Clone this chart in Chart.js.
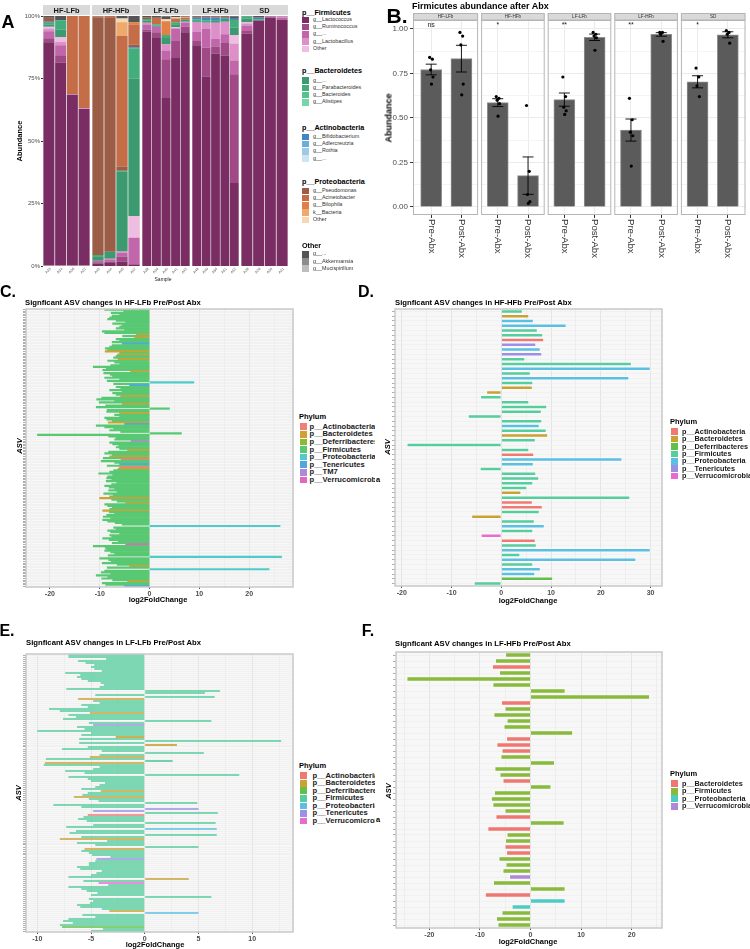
<!DOCTYPE html>
<html>
<head>
<meta charset="utf-8">
<script src="https://cdn.jsdelivr.net/npm/chart.js@4/dist/chart.umd.min.js"></script>
<style>
body { margin: 0; background: #fff; font-family: "Liberation Sans", Arial, sans-serif; }
#page { position: relative; width: 750px; height: 949px; overflow: hidden; }
#leftCol { position: absolute; left: 0; top: 0; width: 375px; height: 949px; overflow: hidden; }
canvas { position: absolute; }
.t { position: absolute; white-space: nowrap; line-height: 1; }
.sw { position: absolute; }
</style>
</head>
<body>
<div id="page"><div id="leftCol"></div></div>
<script>
// ---------- data: panel A (relative abundance, % per sample) ----------
const facetNamesA = ['HF-LFb', 'HF-HFb', 'LF-LFb', 'LF-HFb', 'SD'];
const facetSizesA = [4, 4, 5, 5, 4];
const samplesA = ['A33', 'A34', 'A36', 'A37', 'A43', 'A44', 'A45', 'A47', 'A38', 'A39', 'A40',
  'A41', 'A42', 'A48', 'A49', 'A50', 'A51', 'A52', 'A28', 'A29', 'A30', 'A31'];

const lactococcus = [89.5, 81.3, 68.5, 62.8, 1.0, 1.2, 1.8, 0.5, 93.8, 91.5, 67.2, 83.5, 93.5, 88.3, 75.8, 85.0, 84.2, 33.2, 93.0, 98.2, 99.2, 98.5];
const ruminococcus = [1.6, 3.0, 0, 0, 0.5, 0.6, 2.0, 0.3, 0.8, 2.0, 15.5, 6.5, 2.2, 1.7, 11.5, 2.8, 5.0, 43.5, 1.0, 0, 0.3, 0];
const firmOtherGenus = [2.8, 4.0, 0, 0, 0.6, 0.8, 1.5, 10.5, 2.0, 2.2, 3.5, 5.0, 1.5, 3.6, 7.5, 3.0, 3.5, 5.5, 2.0, 0, 0.3, 0.7];
const lactobacillus = [1.0, 1.3, 0.3, 0.4, 0, 0.3, 0.5, 0, 0.7, 0, 2.5, 0, 0.5, 4.0, 2.5, 6.5, 5.0, 6.7, 1.0, 0, 0, 0.6];
const firmOther = [0.8, 2.0, 0, 0, 0, 0, 0, 8.7, 0, 0, 0, 0.5, 0, 0, 0, 0, 0, 3.5, 0.5, 0, 0, 0];
const bactGenus = [0.8, 3.0, 0, 0, 1.8, 2.8, 32.0, 55.0, 0.8, 0.5, 2.5, 1.2, 0.8, 0, 0, 1.0, 1.2, 3.0, 1.5, 0, 0, 0];
const parabacteroides = [0.8, 3.7, 0, 0, 0.5, 0, 0.3, 12.0, 0.7, 0.5, 1.2, 0.8, 0, 1.0, 1.0, 0, 0, 3.0, 0.8, 0.5, 0, 0];
const bifidobacterium = [0.4, 0, 0, 0, 0, 0, 0, 0.5, 0, 0, 0, 0, 0, 0.7, 1.0, 1.0, 0.4, 0.5, 0, 0.6, 0, 0];
const pseudomonas = [1.6, 0, 0, 0, 95.1, 93.8, 1.7, 1.0, 0.7, 0, 0, 0, 0, 0.4, 0.4, 0, 0.4, 0, 0, 0.3, 0, 0];
const acinetobacter = [0, 0, 31.2, 36.8, 0.3, 0.5, 52.2, 8.0, 0, 2.6, 0, 1.5, 0.8, 0, 0, 0.4, 0, 0, 0, 0, 0, 0];
const bilophila = [0, 0, 0, 0, 0, 0, 0, 1.0, 0, 0, 5.5, 0, 0, 0, 0, 0, 0, 0, 0, 0, 0, 0];
const kBacteria = [0, 0, 0, 0, 0, 0, 5.5, 0, 0, 0, 0, 0, 0.4, 0, 0, 0, 0, 0, 0, 0, 0, 0];
const proteoOther = [0, 0, 0, 0, 0, 0, 1.5, 0, 0, 0, 0.8, 0.5, 0, 0, 0, 0, 0, 0, 0, 0, 0, 0];
const otherGenus = [0.7, 1.7, 0, 0, 0.2, 0, 1.0, 2.5, 0.5, 0.7, 1.2, 0.5, 0.3, 0.3, 0.3, 0.3, 0.3, 1.0, 0.2, 0.4, 0.2, 0.2];

const legendTitlesA = ['p__Firmicutes', 'p__Bacteroidetes', 'p__Actinobacteria', 'p__Proteobacteria', 'Other'];
const legendItemsA = [
  ['g__Lactococcus', 'g__Ruminococcus', 'g__...', 'g__Lactobacillus', 'Other'],
  ['g__...', 'g__Parabacteroides', 'g__Bacteroides', 'g__Alistipes'],
  ['g__Bifidobacterium', 'g__Adlercreutzia', 'g__Rothia', 'g__...'],
  ['g__Pseudomonas', 'g__Acinetobacter', 'g__Bilophila', 'k__Bacteria', 'Other'],
  ['g__...', 'g__Akkermansia', 'g__Mucispirillum']
];

// ---------- data: panel B ----------
const groupsB = ['HF-LFb', 'HF-HFb', 'LF-LFb', 'LF-HFb', 'SD'];
const timeLabelsB = ['Pre-Abx', 'Post-Abx'];
const preMean = [0.772, 0.586, 0.603, 0.432, 0.703];
const preSE = [0.030, 0.022, 0.037, 0.062, 0.034];
const postMean = [0.833, 0.176, 0.953, 0.969, 0.967];
const postSE = [0.075, 0.105, 0.018, 0.010, 0.017];
const prePoints = [[0.84, 0.83, 0.77, 0.73, 0.69], [0.62, 0.61, 0.60, 0.58, 0.51], [0.73, 0.62, 0.56, 0.54, 0.52], [0.61, 0.49, 0.42, 0.40, 0.23], [0.78, 0.73, 0.68, 0.62]];
const postPoints = [[0.98, 0.96, 0.91, 0.69, 0.63], [0.57, 0.20, 0.07, 0.03, 0.02], [0.98, 0.97, 0.96, 0.95, 0.88], [0.98, 0.98, 0.97, 0.93], [0.99, 0.98, 0.97, 0.92]];
const jitterB = [-0.05, 0.04, -0.02, 0.06, 0.01];
const sigB = ['ns', '*', '**', '**', '*'];

// ---------- data: panels C-F (log2FoldChange per ASV, top to bottom) ----------
const valuesC = [
  -9.0, -5.2, -7.7, -6.0, -7.5, -8.0, -8.4, -6.7, -4.8, -7.4,
  -5.5, -6.0, -6.7, -5.0, -9.5, -9.0, -2.7, -5.4, -3.0, -6.7,
  -6.0, -7.5, -5.5, -7.5, -8.0, -8.9, -8.4, -8.9, -6.0, -6.4,
  -6.7, -7.2, -6.3, -8.4, -7.0, -6.0, -7.8, -11.3, -8.7, -9.4,
  -3.8, -9.2, -7.9, -7.4, -9.0, -6.0, -8.5, 8.9, -7.2, -4.0,
  -6.7, -5.8, -8.0, -5.5, -7.4, -6.7, -5.8, -9.6, -10.6, -7.0,
  -10.1, -5.5, -8.8, -10.7, 4.0, -8.5, -8.6, -6.0, -7.0, -6.0,
  -9.0, -8.6, -7.5, -8.3, -5.0, -10.7, -9.0, -7.2, -8.0, -5.8,
  6.4, -22.5, -8.2, -6.7, -7.0, -3.7, -8.0, -7.4, -6.2, -6.7,
  -6.0, -4.4, -8.2, -9.0, -7.5, -8.0, -9.3, -5.7, -9.7, -7.0,
  -6.0, -8.5, -6.0, -6.3, -7.2, -8.0, -10.2, -7.4, -8.4, -8.6,
  -7.6, -8.7, -6.6, -7.6, -9.0, -8.1, -7.0, -8.2, -6.5, -9.2,
  -7.3, -8.0, -10.0, -7.6, -6.5, -4.8, -9.0, -8.4, -7.5, -8.0,
  -9.4, -8.1, -7.0, -8.6, -9.3, -7.8, -9.4, -8.4, -6.9, -5.5,
  26.2, -7.2, -6.7, -8.4, -7.8, -6.0, -8.0, -7.6, -9.4, -8.1,
  -6.3, -7.5, -4.8, -11.3, -8.9, -8.6, -9.0, -7.8, -7.0, -8.3,
  26.5, -10.0, -8.2, -7.7, -9.5, -6.5, -4.0, -8.5, 24.0, -9.0,
  -9.7, -7.8, -10.7, -8.4, -9.6, -7.4, -4.4, -9.5, -8.8, -5.0
];
// non-Firmicutes ASVs in C (index -> phylum code)
const phylumC = { 16: 'B', 18: 'B', 22: 'T', 27: 'B', 29: 'B', 32: 'B', 40: 'B', 47: 'P', 49: 'T', 56: 'B',
  61: 'B', 67: 'B', 73: 'B', 74: 'T', 85: 'M', 91: 'B', 95: 'B', 97: 'A', 100: 'T', 102: 'A', 103: 'B',
  122: 'B', 125: 'B', 130: 'B', 140: 'P', 152: 'V', 160: 'P', 166: 'B', 168: 'P', 176: 'B', 179: 'T' };

const valuesD = [
  4.3, 5.6, 6.5, 13.1, 7.3, 8.4, 8.6, 7.0, 7.9, 8.2,
  4.8, 26.2, 30.0, 5.9, 25.7, 6.4, 6.3, -3.0, -4.2, 5.6,
  9.2, 8.1, -6.7, 8.2, 7.7, 9.1, 9.4, 6.9, -19.0, 5.6,
  6.6, 24.3, 6.5, -4.3, 7.0, 7.6, 6.4, 5.2, 4.0, 25.9,
  6.3, 8.3, 7.7, -6.0, 6.7, 8.7, 6.4, -4.1, 6.9, 7.1,
  30.0, 3.8, 27.1, 6.4, 7.9, 6.8, 10.4, -5.5
];
const phylaD = 'FBPPFFATPTFFPFPFBBFFFFFFPFBFFFAPPFFFFFBFAAFBFPFVAFPFPFPPDF'.split('');

const valuesE = [
  -7.1, -7.1, -3.6, -6.2, -5.5, -4.7, -5.0, -4.7, -4.0, -7.4,
  -6.0, -6.3, -5.9, -5.3, -4.1, -3.8, -4.2, -7.3, 7.0, 5.6,
  -4.6, 6.5, -6.2, -4.8, -4.2, -5.9, -5.3, -8.9, -7.9, -5.1,
  -7.1, -6.4, -7.6, 6.2, -5.2, -4.8, -6.3, -5.6, -10.0, -5.0,
  -5.9, -2.7, -6.1, 12.7, -6.1, 3.0, -5.3, -7.7, -4.0, 5.5,
  -4.2, -5.1, -9.2, 2.6, -9.3, -9.4, -4.2, -4.8, -7.4, -5.6,
  8.8, -7.1, -5.3, -5.0, -3.7, -4.2, -4.6, -5.9, -4.1, -5.3,
  -5.8, -6.6, -5.2, -4.3, 4.9, -8.5, -5.9, 5.0, -4.8, 6.8,
  -5.3, -5.7, -6.2, -5.4, 6.6, -4.8, -7.3, 6.7, -6.4, -7.0,
  6.7, -5.9, -7.9, -3.5, -6.3, -4.6, 5.0, -5.6, -5.9, -5.2,
  -4.9, -3.2, -4.5, -4.6, -5.2, -5.2, -6.3, -6.0, -4.0, -4.5,
  -5.0, -7.1, 4.1, -5.7, -4.3, -3.4, -7.1, -5.9, -5.4, -4.4,
  -5.0, 6.2, -5.2, -4.8, -5.1, -6.3, -6.0, -4.0, -3.3, 5.0,
  -5.8, -4.6, -7.1, -7.6, -6.7, -7.9, -7.7, -3.9, -5.0
];
const phylumE = { 22: 'B', 29: 'B', 35: 'T', 41: 'B', 45: 'B', 51: 'B', 54: 'B', 68: 'B', 71: 'B', 77: 'T',
  78: 'T', 80: 'A', 87: 'P', 92: 'B', 97: 'B', 102: 'T', 112: 'B', 114: 'V', 128: 'B', 129: 'P', 136: 'D' };

const valuesF = [
  -5.0, -7.0, -7.6, -6.2, -24.5, -7.5, 6.9, 23.6, -5.8, -5.1,
  -7.3, -4.7, -5.3, 8.4, -4.8, -6.7, -5.7, -5.9, 4.8, -7.1,
  -6.1, -5.5, 4.1, -7.2, -7.8, -7.5, -5.1, -6.9, 6.7, -8.5,
  -4.7, -5.0, -5.1, -4.8, -6.3, -4.9, -5.5, -4.2, -7.4, 6.9,
  -9.0, 6.9, -3.7, -5.7, -6.8, -6.5
];
const phylaF = 'FFBFFFFFBFFFFFBBBFFFFBFFFFFBFBFFBBFFFVFFBPPFFF'.split('');

const phylumNames = { A: 'p__Actinobacteria', B: 'p__Bacteroidetes', D: 'p__Deferribacteres', F: 'p__Firmicutes',
  P: 'p__Proteobacteria', T: 'p__Tenericutes', M: 'p__TM7', V: 'p__Verrucomicrobia' };
const legendOrderC = ['A', 'B', 'D', 'F', 'P', 'T', 'M', 'V'];
const legendOrderDE = ['A', 'B', 'D', 'F', 'P', 'T', 'V'];
const legendOrderF = ['B', 'F', 'P', 'V'];

// ---------- styles ----------
const colorsA = {
  lactococcus: '#7a2d63', ruminococcus: '#9f4a87', firmOtherGenus: '#c266ac', lactobacillus: '#dd8fca', firmOther: '#efbde2',
  bactGenus: '#3c9a70', parabacteroides: '#42ae7b', bacteroides: '#56c28c', alistipes: '#74d6a9',
  bifidobacterium: '#3f87c6', adlercreutzia: '#6caed9', rothia: '#9ecae6', actGenus: '#cde5f2',
  pseudomonas: '#9c5d46', acinetobacter: '#c46d47', bilophila: '#e28048', kBacteria: '#edaa6c', proteoOther: '#f7d7b0',
  otherGenus: '#555555', akkermansia: '#8c8c8c', mucispirillum: '#bdbdbd'
};
const legendColorsA = [
  ['lactococcus', 'ruminococcus', 'firmOtherGenus', 'lactobacillus', 'firmOther'],
  ['bactGenus', 'parabacteroides', 'bacteroides', 'alistipes'],
  ['bifidobacterium', 'adlercreutzia', 'rothia', 'actGenus'],
  ['pseudomonas', 'acinetobacter', 'bilophila', 'kBacteria', 'proteoOther'],
  ['otherGenus', 'akkermansia', 'mucispirillum']
];
const taxaA = [
  { values: lactococcus, color: colorsA.lactococcus },
  { values: ruminococcus, color: colorsA.ruminococcus },
  { values: firmOtherGenus, color: colorsA.firmOtherGenus },
  { values: lactobacillus, color: colorsA.lactobacillus },
  { values: firmOther, color: colorsA.firmOther },
  { values: bactGenus, color: colorsA.bactGenus },
  { values: parabacteroides, color: colorsA.parabacteroides },
  { values: bifidobacterium, color: colorsA.bifidobacterium },
  { values: pseudomonas, color: colorsA.pseudomonas },
  { values: acinetobacter, color: colorsA.acinetobacter },
  { values: bilophila, color: colorsA.bilophila },
  { values: kBacteria, color: colorsA.kBacteria },
  { values: proteoOther, color: colorsA.proteoOther },
  { values: otherGenus, color: colorsA.otherGenus }
];
// phylum fills as seen in the figure (alpha already blended on the light panel)
const hue8 = { A: '#f27f76', B: '#cfa032', D: '#8cba2e', F: '#58c873', P: '#4fcbc9', T: '#4fa6e0', M: '#b088d8', V: '#e367c2' };
const hue7 = { A: '#f07a72', B: '#c9a233', D: '#62c04a', F: '#55cd9d', P: '#5bbfe2', T: '#9d8ee6', V: '#e86bcf' };
const hue4 = { B: '#f07771', F: '#88ba3c', P: '#4fcbc6', V: '#b088d8' };
const FONT = '"Liberation Sans", Arial, sans-serif';

Chart.defaults.font.family = FONT;
Chart.defaults.animation = false;

const page = document.getElementById('page');
const leftCol = document.getElementById('leftCol');

function label(str, x, y, size, o = {}) {
  const d = document.createElement('div');
  d.className = 't';
  d.textContent = str;
  d.style.left = x + 'px';
  d.style.top = y + 'px';
  d.style.fontSize = size + 'px';
  d.style.fontWeight = o.bold ? 'bold' : 'normal';
  if (o.italic) d.style.fontStyle = 'italic';
  d.style.color = o.color || '#000';
  let tf = o.center ? 'translate(-50%,-50%)' : 'translate(0,-50%)';
  if (o.rotate) tf += ' rotate(' + o.rotate + 'deg)';
  d.style.transform = tf;
  (o.parent || page).appendChild(d);
}

function swatch(x, y, w, h, color, parent) {
  const d = document.createElement('div');
  d.className = 'sw';
  d.style.left = x + 'px';
  d.style.top = y + 'px';
  d.style.width = w + 'px';
  d.style.height = h + 'px';
  d.style.background = color;
  (parent || page).appendChild(d);
}

function makeCanvas(x, y, w, h) {
  const c = document.createElement('canvas');
  c.width = w;
  c.height = h;
  c.style.left = x + 'px';
  c.style.top = y + 'px';
  c.style.width = w + 'px';
  c.style.height = h + 'px';
  page.appendChild(c);
  return c;
}

// ---------- panel A ----------
const facetLeftA = [43, 92, 142, 192, 241];
const facetWidthA = [47, 48, 48, 47, 47];

const stripA = {
  id: 'stripA',
  beforeDraw(chart) {
    const { ctx, chartArea: a } = chart;
    ctx.save();
    ctx.fillStyle = '#e6e6e6';
    ctx.fillRect(a.left, a.top, a.width, a.height);
    ctx.restore();
  },
  afterDraw(chart, args, opts) {
    const { ctx, chartArea: a } = chart;
    ctx.save();
    ctx.fillStyle = '#d9d9d9';
    ctx.fillRect(a.left, 5, a.width, 10);
    ctx.fillStyle = '#1a1a1a';
    ctx.font = 'bold 7.4px ' + FONT;
    ctx.textAlign = 'center';
    ctx.textBaseline = 'middle';
    ctx.fillText(opts.name, (a.left + a.right) / 2, 10.5);
    const xs = chart.scales.x;
    ctx.fillStyle = '#555';
    ctx.font = '3.6px ' + FONT;
    ctx.textAlign = 'right';
    chart.data.labels.forEach((lab, i) => {
      const px = xs.getPixelForValue(i);
      ctx.save();
      ctx.translate(px + 1.5, 268.5);
      ctx.rotate(-Math.PI / 4);
      ctx.fillText(lab, 0, 0);
      ctx.restore();
    });
    ctx.restore();
  }
};

let startA = 0;
facetNamesA.forEach((name, k) => {
  const n = facetSizesA[k];
  const axisW = k === 0 ? 43 : 0;
  const cv = makeCanvas(facetLeftA[k] - axisW, 0, facetWidthA[k] + axisW, 285);
  const s = startA;
  const yScale = {
    stacked: true, min: 0, max: 100, display: k === 0,
    ticks: { stepSize: 25, callback: v => v + '%', font: { size: 6 }, color: '#4d4d4d', padding: 1 },
    grid: { drawOnChartArea: false, tickLength: 2, tickColor: '#333' },
    border: { display: false }
  };
  if (k === 0) yScale.afterFit = sc => { sc.width = 43; };
  new Chart(cv, {
    type: 'bar',
    data: {
      labels: samplesA.slice(s, s + n),
      datasets: taxaA.map(t => ({
        data: t.values.slice(s, s + n),
        backgroundColor: t.color,
        borderWidth: 0,
        barPercentage: 1,
        categoryPercentage: 0.93
      }))
    },
    options: {
      responsive: false,
      animation: false,
      devicePixelRatio: 1,
      layout: { padding: { top: 16, bottom: 19, left: 0, right: 0 } },
      plugins: { legend: { display: false }, tooltip: { enabled: false }, stripA: { name } },
      scales: {
        x: { stacked: true, display: false },
        y: yScale
      }
    },
    plugins: [stripA]
  });
  startA += n;
});

label('A', 8, 22, 18, { bold: true, center: true });
label('Abundance', 20, 141, 7.5, { bold: true, center: true, rotate: -90 });
label('Sample', 163, 279, 5, { center: true, color: '#222' });

const legendTitleYA = [12.7, 71.3, 128, 182.3, 245.7];
const legendFirstYA = [20, 80.7, 137, 191, 254.3];
legendTitlesA.forEach((title, g) => {
  label(title, 302, legendTitleYA[g], 7.2, { bold: true });
  legendItemsA[g].forEach((it, i) => {
    const y = legendFirstYA[g] + i * 7.2;
    swatch(302, y - 3.3, 6.6, 6.6, colorsA[legendColorsA[g][i]]);
    label(it, 313, y, 5.4, { color: '#333' });
  });
});

// ---------- panel B ----------
const tickPosB = [];
const barDataB = [];
const pointDataB = [];
groupsB.forEach((g, k) => {
  tickPosB.push(2.2 * k + 0.6, 2.2 * k + 1.6);
  barDataB.push({ x: 2.2 * k + 0.6, y: preMean[k] }, { x: 2.2 * k + 1.6, y: postMean[k] });
  prePoints[k].forEach((v, j) => pointDataB.push({ x: 2.2 * k + 0.6 + jitterB[j], y: v }));
  postPoints[k].forEach((v, j) => pointDataB.push({ x: 2.2 * k + 1.6 + jitterB[j], y: v }));
});
const isQuarter = v => Math.abs(v * 4 - Math.round(v * 4)) < 1e-6;

const facetB = {
  id: 'facetB',
  beforeDatasetsDraw(chart) {
    const { ctx, chartArea: a, scales: { x } } = chart;
    ctx.save();
    ctx.fillStyle = '#fff';
    for (let k = 1; k < groupsB.length; k++) {
      const p = x.getPixelForValue(2.2 * k);
      ctx.fillRect(p - 1.5, 0, 3, a.bottom + 4);
    }
    ctx.restore();
  },
  afterDatasetsDraw(chart) {
    const { ctx, chartArea: a, scales: { x, y } } = chart;
    ctx.save();
    ctx.strokeStyle = '#000';
    ctx.lineWidth = 0.9;
    groupsB.forEach((g, k) => {
      [[preMean, preSE, 0.6], [postMean, postSE, 1.6]].forEach(([m, se, off]) => {
        const px = x.getPixelForValue(2.2 * k + off);
        const y1 = y.getPixelForValue(m[k] + se[k]);
        const y0 = y.getPixelForValue(m[k] - se[k]);
        ctx.beginPath();
        ctx.moveTo(px, y1); ctx.lineTo(px, y0);
        ctx.moveTo(px - 5.5, y1); ctx.lineTo(px + 5.5, y1);
        ctx.moveTo(px - 5.5, y0); ctx.lineTo(px + 5.5, y0);
        ctx.stroke();
      });
    });
    groupsB.forEach((g, k) => {
      const l = x.getPixelForValue(2.2 * k) + (k > 0 ? 1.5 : 0);
      const r = x.getPixelForValue(2.2 * (k + 1)) - (k < groupsB.length - 1 ? 1.5 : 0.5);
      ctx.strokeStyle = '#b5b5b5';
      ctx.lineWidth = 1;
      ctx.strokeRect(l + 0.5, a.top + 0.5, r - l - 1, a.height - 1);
      ctx.fillStyle = '#d9d9d9';
      ctx.fillRect(l, 13, r - l, 7);
      ctx.strokeRect(l + 0.5, 13.5, r - l - 1, 6.5);
      ctx.fillStyle = '#333';
      ctx.font = '4.6px ' + FONT;
      ctx.textAlign = 'center';
      ctx.textBaseline = 'middle';
      ctx.fillText(g, (l + r) / 2, 16.8);
      ctx.fillStyle = '#222';
      ctx.font = '7px ' + FONT;
      ctx.fillText(sigB[k], x.getPixelForValue(2.2 * k + 0.6), y.getPixelForValue(1.02));
      ctx.font = '9.6px ' + FONT;
      ctx.textAlign = 'left';
      ctx.fillStyle = '#333';
      timeLabelsB.forEach((lab, j) => {
        ctx.save();
        ctx.translate(x.getPixelForValue(2.2 * k + 0.6 + j), 219);
        ctx.rotate(Math.PI / 2);
        ctx.fillText(lab, 0, 0);
        ctx.restore();
      });
    });
    ctx.restore();
  }
};

new Chart(makeCanvas(370, 0, 380, 260), {
  type: 'bar',
  data: {
    datasets: [
      { type: 'scatter', data: pointDataB, pointRadius: 1.6, backgroundColor: '#000', borderWidth: 0, order: 0 },
      { data: barDataB, backgroundColor: '#5b5b5b', borderColor: '#8f8f8f', borderWidth: 1, barThickness: 21, order: 1 }
    ]
  },
  options: {
    responsive: false,
    animation: false,
    devicePixelRatio: 1,
    layout: { padding: { top: 20, left: 0, right: 0, bottom: 0 } },
    plugins: { legend: { display: false }, tooltip: { enabled: false } },
    scales: {
      x: {
        type: 'linear', min: 0, max: 11, offset: false,
        ticks: { display: false },
        grid: { offset: false, color: '#ebebeb', tickLength: 3, tickColor: '#333' },
        border: { display: false },
        afterBuildTicks: sc => { sc.ticks = tickPosB.map(v => ({ value: v })); },
        afterFit: sc => { sc.height = 45; }
      },
      y: {
        min: -0.045, max: 1.05,
        ticks: { stepSize: 0.125, includeBounds: false, callback: v => isQuarter(v) ? v.toFixed(2) : '', font: { size: 8 }, color: '#4d4d4d', padding: 2 },
        grid: {
          color: c => isQuarter(c.tick.value) ? '#ebebeb' : '#f4f4f4',
          tickColor: c => isQuarter(c.tick.value) ? '#333' : 'rgba(0,0,0,0)',
          tickLength: 3
        },
        border: { display: false },
        afterFit: sc => { sc.width = 43; }
      }
    }
  },
  plugins: [facetB]
});

label('B.', 397, 15, 21, { bold: true, center: true });
label('Firmicutes abundance after Abx', 412, 5.5, 9, { bold: true });
label('Abundance', 389, 118, 9, { bold: true, center: true, rotate: -90 });

// ---------- panels C-F ----------
const panelBg = {
  id: 'panelBg',
  beforeDraw(chart) {
    const { ctx, chartArea: a } = chart;
    ctx.save();
    ctx.fillStyle = '#f7f7f7';
    ctx.fillRect(a.left, a.top, a.width, a.height);
    ctx.restore();
  },
  afterDraw(chart) {
    const { ctx, chartArea: a } = chart;
    ctx.save();
    ctx.strokeStyle = '#c9c9c9';
    ctx.lineWidth = 1.5;
    ctx.strokeRect(a.left, a.top, a.width, a.height);
    ctx.restore();
  }
};

function asvPanel(cfg) {
  const a = cfg.area;
  const major = v => Math.abs(v / cfg.step - Math.round(v / cfg.step)) < 1e-6;
  new Chart(makeCanvas(cfg.x, cfg.y, 375, cfg.h), {
    type: 'bar',
    data: {
      labels: cfg.values.map((v, i) => 'ASV' + (i + 1)),
      datasets: [{
        data: cfg.values,
        backgroundColor: cfg.phyla.map(p => cfg.colors[p]),
        borderColor: 'rgba(255,255,255,0.85)',
        borderWidth: cfg.border,
        barPercentage: 1,
        categoryPercentage: cfg.cat
      }]
    },
    options: {
      indexAxis: 'y',
      responsive: false,
      animation: false,
      devicePixelRatio: 1,
      layout: { padding: { left: 0, top: a.t, right: 375 - a.r, bottom: 0 } },
      plugins: { legend: { display: false }, tooltip: { enabled: false } },
      scales: {
        x: {
          type: 'linear', min: cfg.min, max: cfg.max,
          ticks: { stepSize: cfg.step / 2, includeBounds: false, autoSkip: false, maxRotation: 0,
            callback: v => major(v) ? String(v) : '', font: { size: 7, weight: 'bold' }, color: '#4d4d4d', padding: 1 },
          grid: {
            color: c => major(c.tick.value) ? '#e4e4e4' : '#eeeeee',
            tickColor: c => major(c.tick.value) ? '#555' : 'rgba(0,0,0,0)',
            tickLength: 2
          },
          border: { display: false },
          afterFit: sc => { sc.height = cfg.h - a.b; }
        },
        y: {
          ticks: { display: false },
          grid: { offset: false, color: '#ececec', lineWidth: 0.6, tickColor: '#777', tickLength: 3 },
          border: { display: false },
          afterFit: sc => { sc.width = a.l; }
        }
      }
    },
    plugins: [panelBg]
  });
}

function legendBlock(order, colors, x, titleY, firstY, pitch, textX, size, parent) {
  label('Phylum', x, titleY, 7.5, { bold: true, parent });
  order.forEach((code, i) => {
    const y = firstY + i * pitch;
    swatch(x + 1, y - 3.4, 6.8, 6.8, colors[code], parent);
    label(phylumNames[code], textX, y, size, { bold: true, color: '#1a1a1a', parent });
  });
}

const phylaC = valuesC.map((v, i) => phylumC[i] || 'F');
const phylaE = valuesE.map((v, i) => phylumE[i] || 'F');

asvPanel({ x: 0, y: 280, h: 325, area: { l: 26, t: 29, r: 293, b: 307 }, values: valuesC, phyla: phylaC,
  colors: hue8, min: -24.8, max: 28.8, step: 10, cat: 1.0, border: 0 });
asvPanel({ x: 375, y: 280, h: 325, area: { l: 20, t: 29, r: 287, b: 306 }, values: valuesD, phyla: phylaD,
  colors: hue7, min: -21.35, max: 32.3, step: 10, cat: 0.86, border: 0.8 });
asvPanel({ x: 0, y: 625, h: 324, area: { l: 26, t: 29, r: 293, b: 307 }, values: valuesE, phyla: phylaE,
  colors: hue7, min: -11.05, max: 13.8, step: 5, cat: 0.85, border: 0 });
asvPanel({ x: 375, y: 625, h: 324, area: { l: 21, t: 27, r: 287, b: 303 }, values: valuesF, phyla: phylaF,
  colors: hue4, min: -26.6, max: 26.0, step: 10, cat: 0.86, border: 0.8 });

// titles and labels
label('C.', 8, 292, 16, { bold: true, center: true });
label('Signficant ASV changes in HF-LFb Pre/Post Abx', 25, 303, 7.7, { bold: true });
label('ASV', 20, 446, 7.5, { bold: true, italic: true, center: true, rotate: -90 });
label('log2FoldChange', 158, 600, 7.5, { bold: true, center: true });
legendBlock(legendOrderC, hue8, 299, 417, 426.7, 7.6, 309.5, 7.6, leftCol);

label('D.', 366, 292, 16, { bold: true, center: true });
label('Signficant ASV changes in HF-HFb Pre/Post Abx', 395, 303, 7.7, { bold: true });
label('ASV', 388, 447, 7.5, { bold: true, italic: true, center: true, rotate: -90 });
label('log2FoldChange', 528, 601, 7.5, { bold: true, center: true });
legendBlock(legendOrderDE, hue7, 670, 421.7, 431.7, 7.4, 682, 7.3);
label('a', 378, 480, 7.5, { bold: true, center: true });

label('E.', 7, 631, 16, { bold: true, center: true });
label('Signficant ASV changes in LF-LFb Pre/Post Abx', 26, 643, 7.7, { bold: true });
label('ASV', 19, 793, 7.5, { bold: true, italic: true, center: true, rotate: -90 });
label('log2FoldChange', 155, 945, 7.5, { bold: true, center: true });
legendBlock(legendOrderDE, hue7, 299, 765.7, 775.7, 7.55, 312.5, 7.6, leftCol);

label('F.', 368, 631, 16, { bold: true, center: true });
label('Signficant ASV changes in LF-HFb Pre/Post Abx', 395, 644, 7.7, { bold: true });
label('ASV', 389, 791, 7.5, { bold: true, italic: true, center: true, rotate: -90 });
label('log2FoldChange', 528, 942, 7.5, { bold: true, center: true });
legendBlock(legendOrderF, hue4, 670, 773.7, 783.7, 7.5, 682, 7.3);
label('a', 378, 820, 7.5, { bold: true, center: true });
</script>
</body>
</html>
